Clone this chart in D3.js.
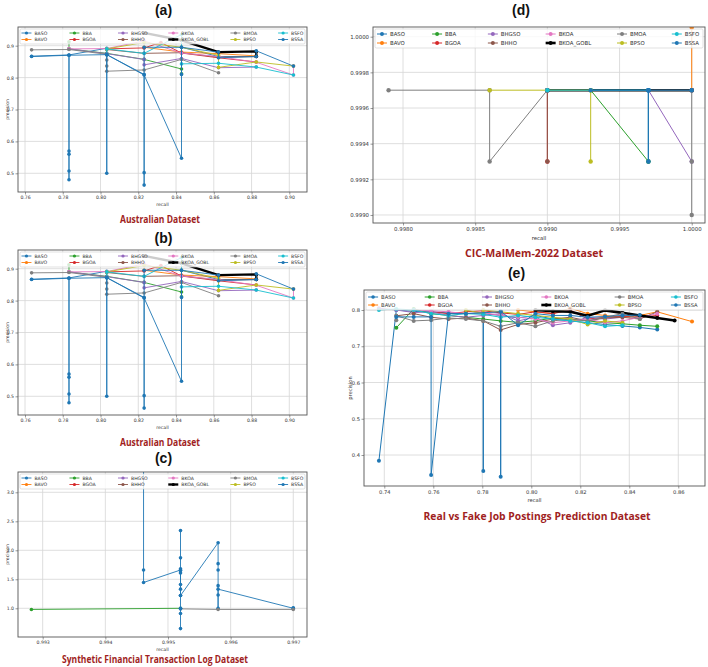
<!DOCTYPE html>
<meta charset="utf-8">
<style>
body { margin: 0; background: #fff; }
svg { display: block; font-family: "DejaVu Sans", sans-serif; }
.grid line { stroke: #d6d6d6; stroke-width: 0.8; }
.frame { fill: none; stroke: #555; stroke-width: 0.9; }
.axis path { display: none; }
.axis line { stroke: #555; stroke-width: 0.6; }
.axis text { fill: #333; font-family: "DejaVu Sans", sans-serif; }
.caption { font-family: "Open Sans", sans-serif; font-weight: 700; fill: #a01e22; text-anchor: middle; }
.ptitle { font-family: "Liberation Sans", sans-serif; font-weight: 700; font-size: 14px; fill: #111; text-anchor: middle; }
.lbl { fill: #333; text-anchor: middle; }
</style>
<body>
<svg id="chart" width="708" height="667"></svg>
<script src="https://d3js.org/d3.v7.min.js"></script>
<script>

// series names, in legend order, and their matplotlib colours
var SERIES = ["BASO", "BAVO", "BBA", "BGOA", "BHGSO", "BHHO", "BKOA", "BKOA_GOBL", "BMOA", "BPSO", "BSFO", "BSSA"];
var COLORS = ["#1f77b4", "#ff7f0e", "#2ca02c", "#d62728", "#9467bd", "#8c564b", "#e377c2", "#000000", "#7f7f7f", "#bcbd22", "#17becf", "#1f77b4"];

// ---- Australian dataset (panels a and b) : [recall, precision]
var australian = {
  BASO: [[0.7635,0.867],[0.7833,0.871],[0.8033,0.892],[0.8033,0.872],[0.8231,0.808],[0.8429,0.547],[0.8429,0.895],[0.8625,0.866],[0.8825,0.866]],
  BAVO: [[0.8231,0.895],[0.8429,0.880],[0.8625,0.875],[0.8825,0.868],[0.8825,0.882]],
  BBA: [[0.7833,0.912],[0.7833,0.890],[0.8033,0.876],[0.8231,0.857],[0.8429,0.827],[0.8429,0.812]],
  BGOA: [[0.8033,0.890],[0.8231,0.893],[0.8320,0.910],[0.8429,0.877],[0.8625,0.862],[0.8825,0.849]],
  BHGSO: [[0.7833,0.890],[0.8033,0.875],[0.8231,0.857],[0.8231,0.840],[0.8429,0.860],[0.8625,0.831],[0.8825,0.833]],
  BHHO: [[0.8033,0.888],[0.8231,0.876],[0.8429,0.878],[0.8625,0.864],[0.8825,0.866]],
  BKOA: [[0.7833,0.890],[0.8033,0.891],[0.8231,0.915],[0.8429,0.877],[0.8625,0.866],[0.8825,0.848],[0.9022,0.808],[0.9022,0.836]],
  BKOA_GOBL: [[0.8231,0.940],[0.8429,0.917],[0.8625,0.880],[0.8825,0.882],[0.8825,0.866]],
  BMOA: [[0.7635,0.887],[0.7833,0.888],[0.8033,0.873],[0.8033,0.855],[0.8033,0.836],[0.8033,0.820],[0.8231,0.824],[0.8429,0.857],[0.8625,0.815]],
  BPSO: [[0.8033,0.890],[0.8231,0.910],[0.8429,0.895],[0.8625,0.870],[0.8625,0.832],[0.8825,0.849],[0.9022,0.836]],
  BSFO: [[0.8033,0.872],[0.8033,0.890],[0.8231,0.876],[0.8429,0.935],[0.8429,0.843],[0.8625,0.845],[0.8825,0.833],[0.9022,0.808]],
  BSSA: [[0.7635,0.866],[0.7833,0.870],[0.7833,0.570],[0.7833,0.560],[0.7833,0.507],[0.7833,0.480],[0.7833,0.870],[0.8033,0.872],[0.8033,0.500],[0.8033,0.872],[0.8231,0.810],[0.8231,0.463],[0.8231,0.502],[0.8231,0.895],[0.8429,0.895],[0.8429,0.810],[0.8429,0.895],[0.8625,0.880],[0.8625,0.862],[0.8825,0.866],[0.8825,0.884],[0.9022,0.836]]
};
var ausRecallTicks = [0.76, 0.78, 0.80, 0.82, 0.84, 0.86, 0.88, 0.90];
var ausPrecTicks = [0.5, 0.6, 0.7, 0.8, 0.9];

// ---- Synthetic Financial Transaction Log dataset (panel c)
var synthetic = {
  BASO: [[0.99461,3.6],[0.99461,1.66],[0.99461,1.445],[0.9952,1.66],[0.9952,1.22],[0.9958,2.13],[0.9958,1.77],[0.9958,1.66],[0.9958,1.39],[0.9958,1.23],[0.9958,1.0],[0.9958,1.33],[0.9970,1.0],[0.9970,1.01]],
  BBA: [[0.99282,0.98],[0.9952,1.0]],
  BMOA: [[0.9952,0.99],[0.9958,0.98],[0.9970,0.98]],
  BSSA: [[0.9952,2.34],[0.9952,1.87],[0.9952,1.68],[0.9952,1.65],[0.9952,1.61],[0.9952,1.41],[0.9952,1.33],[0.9952,1.22],[0.9952,1.0],[0.9952,0.99],[0.9952,0.91],[0.9952,0.65]]
};
var synRecallTicks = [0.993, 0.994, 0.995, 0.996, 0.997];
var synPrecTicks = [1.0, 1.5, 2.0, 2.5, 3.0];

// ---- CIC-MalMem-2022 dataset (panel d)
var malmem = {
  BASO: [[0.9990,0.9997],[0.9997,0.9997],[0.9997,0.9993],[0.9997,0.9997],[1.0,0.9997]],
  BAVO: [[1.0,1.00005],[1.0,0.9997]],
  BBA: [[0.9993,0.9997],[0.9997,0.9993]],
  BGOA: [[0.9990,0.9997],[0.9990,0.9993]],
  BHGSO: [[0.9997,0.9997],[1.0,0.9993]],
  BHHO: [[0.9990,0.9997],[0.9990,0.9993]],
  BKOA: [[0.9990,0.9997],[1.0,0.9997]],
  BKOA_GOBL: [[0.9990,0.9997],[1.0,0.9997]],
  BMOA: [[0.9979,0.9997],[0.9986,0.9997],[0.9986,0.9993],[0.9990,0.9997],[1.0,0.9997],[1.0,0.9993],[1.0,0.9990]],
  BPSO: [[0.9986,0.9997],[0.9993,0.9997],[0.9993,0.9993]],
  BSFO: [[0.9990,0.9997],[0.9997,0.9997]],
  BSSA: [[0.9993,0.9997],[0.9997,0.9997],[0.9997,0.9993],[0.9997,0.9997],[1.0,0.9997]]
};
var malRecallTicks = [0.9980, 0.9985, 0.9990, 0.9995, 1.0000];
var malPrecTicks = [0.9990, 0.9992, 0.9994, 0.9996, 0.9998, 1.0000];

// ---- Real vs Fake Job Postings dataset (panel e)
var jobs = {
  BASO: [[0.7378,0.384],[0.7449,0.800],[0.7520,0.796],[0.7591,0.795],[0.7662,0.792],[0.7733,0.790],[0.7804,0.792],[0.7804,0.356],[0.7804,0.790],[0.7875,0.785],[0.7946,0.778],[0.8017,0.785],[0.8088,0.775],[0.8159,0.770],[0.8230,0.765],[0.8301,0.760],[0.8372,0.756],[0.8443,0.752],[0.8514,0.746]],
  BAVO: [[0.7946,0.800],[0.8017,0.795],[0.8088,0.790],[0.8159,0.805],[0.8230,0.790],[0.8301,0.785],[0.8372,0.780],[0.8443,0.785],[0.8514,0.795],[0.8656,0.768]],
  BBA: [[0.7449,0.751],[0.7520,0.803],[0.7591,0.790],[0.7662,0.785],[0.7733,0.780],[0.7804,0.775],[0.7875,0.770],[0.7946,0.766],[0.8017,0.770],[0.8088,0.778],[0.8159,0.775],[0.8230,0.770],[0.8301,0.765],[0.8372,0.762],[0.8443,0.758],[0.8514,0.755]],
  BGOA: [[0.7591,0.795],[0.7662,0.790],[0.7733,0.795],[0.7804,0.798],[0.7875,0.792],[0.7946,0.788],[0.8017,0.795],[0.8088,0.790],[0.8159,0.800],[0.8230,0.775],[0.8301,0.780],[0.8372,0.782],[0.8443,0.780],[0.8514,0.785]],
  BHGSO: [[0.7378,0.805],[0.7449,0.800],[0.7520,0.793],[0.7591,0.795],[0.7662,0.785],[0.7733,0.780],[0.7804,0.785],[0.7875,0.790],[0.7946,0.770],[0.8017,0.780],[0.8088,0.758],[0.8159,0.765],[0.8230,0.780],[0.8301,0.775],[0.8372,0.780]],
  BHHO: [[0.7449,0.784],[0.7520,0.790],[0.7591,0.780],[0.7662,0.775],[0.7733,0.778],[0.7804,0.770],[0.7875,0.745],[0.7946,0.760],[0.8017,0.765],[0.8088,0.775],[0.8159,0.780],[0.8230,0.770],[0.8301,0.778],[0.8372,0.780],[0.8443,0.775],[0.8514,0.795]],
  BKOA: [[0.7520,0.800],[0.7591,0.798],[0.7662,0.795],[0.7733,0.790],[0.7804,0.793],[0.7875,0.785],[0.7946,0.780],[0.8017,0.775],[0.8088,0.765],[0.8159,0.770],[0.8230,0.775],[0.8301,0.765],[0.8372,0.770],[0.8443,0.780],[0.8514,0.790]],
  BKOA_GOBL: [[0.8017,0.800],[0.8088,0.797],[0.8159,0.795],[0.8230,0.784],[0.8301,0.799],[0.8372,0.792],[0.8443,0.785],[0.8514,0.778],[0.8585,0.771]],
  BMOA: [[0.7449,0.772],[0.7449,0.784],[0.7520,0.770],[0.7591,0.772],[0.7662,0.778],[0.7733,0.775],[0.7804,0.770],[0.7875,0.755],[0.7946,0.765],[0.8017,0.755],[0.8088,0.770],[0.8159,0.775],[0.8230,0.770],[0.8301,0.780],[0.8372,0.790],[0.8443,0.775]],
  BPSO: [[0.7733,0.790],[0.7733,0.800],[0.7804,0.790],[0.7804,0.800],[0.7875,0.795],[0.7946,0.790],[0.8017,0.785],[0.8088,0.780],[0.8159,0.775],[0.8230,0.760],[0.8301,0.770],[0.8372,0.765]],
  BSFO: [[0.7378,0.800],[0.7449,0.803],[0.7520,0.800],[0.7591,0.790],[0.7662,0.785],[0.7733,0.790],[0.7804,0.788],[0.7875,0.780],[0.7946,0.785],[0.8017,0.780],[0.8088,0.775],[0.8159,0.770],[0.8230,0.765],[0.8301,0.755],[0.8372,0.758]],
  BSSA: [[0.7449,0.781],[0.7520,0.781],[0.7591,0.781],[0.7591,0.345],[0.7662,0.790],[0.7733,0.790],[0.7875,0.795],[0.7875,0.340],[0.7875,0.797],[0.7946,0.758],[0.8017,0.790],[0.8088,0.785],[0.8159,0.785],[0.8230,0.780],[0.8301,0.782],[0.8372,0.785],[0.8443,0.786]]
};
var jobRecallTicks = [0.74, 0.76, 0.78, 0.80, 0.82, 0.84, 0.86];
var jobPrecTicks = [0.4, 0.5, 0.6, 0.7, 0.8];

var svg = d3.select("#chart");

var panels = [
  { data: australian, left: 18, right: 307, top: 27, bottom: 192, xd: [0.75629, 0.90937], yd: [0.4414, 0.9586],
    xt: ausRecallTicks, yt: ausPrecTicks, xf: ".2f", yf: ".1f", title: "(a)", ty: 15,
    cap: "Australian Dataset", cx: 160, cy: 223, cw: 80, fs: 4.6, legH: 15, rows: [6, 12.5], r: 1.8, lw: 0.9, ylab: 4 },
  { data: australian, left: 18, right: 307, top: 250, bottom: 415, xd: [0.75629, 0.90937], yd: [0.4414, 0.9586],
    xt: ausRecallTicks, yt: ausPrecTicks, xf: ".2f", yf: ".1f", title: "(b)", ty: 243,
    cap: "Australian Dataset", cx: 160, cy: 446, cw: 80, fs: 4.6, legH: 15, rows: [6, 12.5], r: 1.8, lw: 0.9, ylab: 4 },
  { data: synthetic, left: 18, right: 307, top: 472, bottom: 637, xd: [0.992606, 0.997219], yd: [0.505, 3.35],
    xt: synRecallTicks, yt: synPrecTicks, xf: ".3f", yf: ".1f", title: "(c)", ty: 463,
    cap: "Synthetic Financial Transaction Log Dataset", cx: 155, cy: 663, cw: 186, fs: 4.6, legH: 15, rows: [6, 12.5], r: 1.8, lw: 0.9, ylab: 4 },
  { data: malmem, left: 373, right: 705, top: 27, bottom: 223, xd: [0.997792, 1.000092], yd: [0.998955, 1.0000544],
    xt: malRecallTicks, yt: malPrecTicks, xf: ".4f", yf: ".4f", title: "(d)", ty: 15,
    cap: "CIC-MalMem-2022 Dataset", cx: 534, cy: 257, cw: 138, fs: 5.4, legH: 19, rows: [7, 16], r: 2.2, lw: 1.0, ylab: null },
  { data: jobs, left: 364, right: 705, top: 290, bottom: 486, xd: [0.73171, 0.8709], yd: [0.3145, 0.8552],
    xt: jobRecallTicks, yt: jobPrecTicks, xf: ".2f", yf: ".1f", title: "(e)", ty: 278,
    cap: "Real vs Fake Job Postings Prediction Dataset", cx: 537, cy: 520, cw: 227, fs: 5.2, legH: 18, rows: [7, 15], r: 2.0, lw: 1.0, ylab: 347 }
];

var legendCols = [0.012, 0.178, 0.346, 0.52, 0.735, 0.9];

panels.forEach(function(p, pi) {
  var g = svg.append("g");
  var x = d3.scaleLinear().domain(p.xd).range([p.left, p.right]);
  var y = d3.scaleLinear().domain(p.yd).range([p.bottom, p.top]);

  // grid
  var grid = g.append("g").attr("class", "grid");
  grid.selectAll(".gx").data(p.xt).enter().append("line")
    .attr("x1", function(d) { return x(d); }).attr("x2", function(d) { return x(d); })
    .attr("y1", p.top).attr("y2", p.bottom);
  grid.selectAll(".gy").data(p.yt).enter().append("line")
    .attr("x1", p.left).attr("x2", p.right)
    .attr("y1", function(d) { return y(d); }).attr("y2", function(d) { return y(d); });

  // clip to frame
  svg.append("clipPath").attr("id", "clip" + pi).append("rect")
    .attr("x", p.left).attr("y", p.top).attr("width", p.right - p.left).attr("height", p.bottom - p.top);
  var plot = g.append("g").attr("clip-path", "url(#clip" + pi + ")");

  var line = d3.line().x(function(d) { return x(d[0]); }).y(function(d) { return y(d[1]); });

  SERIES.forEach(function(name, i) {
    var pts = p.data[name];
    if (!pts) return;
    var gobl = name === "BKOA_GOBL";
    plot.append("path").attr("d", line(pts))
      .attr("fill", "none").attr("stroke", COLORS[i])
      .attr("stroke-width", gobl ? p.lw * 2.6 : p.lw)
      .attr("stroke-linejoin", "round");
    plot.selectAll(null).data(pts).enter().append("circle")
      .attr("cx", function(d) { return x(d[0]); })
      .attr("cy", function(d) { return y(d[1]); })
      .attr("r", p.r).attr("fill", COLORS[i]);
  });

  // axes
  var ax = g.append("g").attr("class", "axis").attr("transform", "translate(0," + p.bottom + ")")
    .call(d3.axisBottom(x).tickValues(p.xt).tickFormat(d3.format(p.xf)).tickSize(2.5).tickPadding(1.5));
  ax.selectAll("text").style("font-size", p.fs + "px");
  var ay = g.append("g").attr("class", "axis").attr("transform", "translate(" + p.left + ",0)")
    .call(d3.axisLeft(y).tickValues(p.yt).tickFormat(d3.format(p.yf)).tickSize(2.5).tickPadding(1.5));
  ay.selectAll("text").style("font-size", p.fs + "px");

  g.append("rect").attr("class", "frame")
    .attr("x", p.left).attr("y", p.top).attr("width", p.right - p.left).attr("height", p.bottom - p.top);

  // axis labels
  g.append("text").attr("class", "lbl").attr("x", (p.left + p.right) / 2).attr("y", p.bottom + 2.5 + p.fs * 2.6)
    .style("font-size", p.fs + "px").text("recall");
  if (p.ylab !== null) {
    g.append("text").attr("class", "lbl")
      .attr("transform", "translate(" + (p.ylab + p.fs) + "," + ((p.top + p.bottom) / 2) + ") rotate(-90)")
      .style("font-size", p.fs + "px").text("precision");
  }

  // legend
  var w = p.right - p.left;
  var lg = g.append("g");
  lg.append("rect").attr("x", p.left + 2).attr("y", p.top + 2).attr("width", w - 4).attr("height", p.legH)
    .attr("rx", 1.5).attr("fill", "#fff").attr("fill-opacity", 0.8).attr("stroke", "#ccc").attr("stroke-width", 0.6);
  SERIES.forEach(function(name, i) {
    var lx = p.left + legendCols[Math.floor(i / 2)] * w;
    var ly = p.top + p.rows[i % 2];
    var gobl = name === "BKOA_GOBL";
    lg.append("line").attr("x1", lx).attr("x2", lx + 10).attr("y1", ly).attr("y2", ly)
      .attr("stroke", COLORS[i]).attr("stroke-width", gobl ? p.lw * 2.6 : p.lw);
    lg.append("circle").attr("cx", lx + 5).attr("cy", ly).attr("r", p.r * 0.9).attr("fill", COLORS[i]);
    lg.append("text").attr("x", lx + 13).attr("y", ly + p.fs * 0.36)
      .style("font-size", p.fs + "px").attr("fill", "#333").text(name);
  });

  // panel title and caption
  svg.append("text").attr("class", "ptitle").attr("x", (p.left + p.right) / 2 + (pi < 3 ? 1 : -18)).attr("y", p.ty).text(p.title);
  svg.append("text").attr("class", "caption").attr("x", p.cx).attr("y", p.cy)
    .style("font-size", "11px").attr("textLength", p.cw).attr("lengthAdjust", "spacingAndGlyphs").text(p.cap);
});
</script>
</body>
